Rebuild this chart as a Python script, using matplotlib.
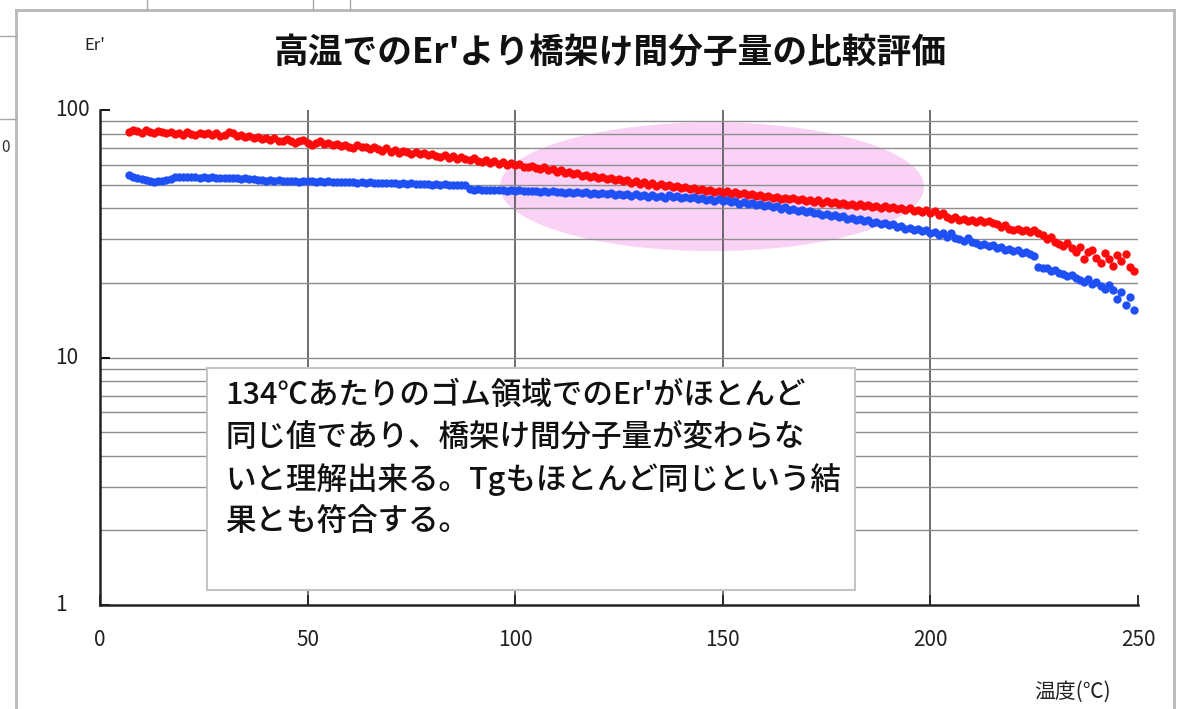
import matplotlib.pyplot as plt
from matplotlib.patches import Ellipse, Rectangle
from matplotlib.lines import Line2D
from matplotlib.ticker import LogLocator, NullFormatter
import numpy as np

plt.rcParams['font.family'] = ['Noto Sans CJK JP', 'DejaVu Sans']

# Er' measured every 1 degC from 7 to 249 degC
temp = np.arange(7, 250)

er_red = [
    81.5, 83.0, 82.2, 81.0, 82.8, 81.6, 80.9, 82.4, 81.3, 80.7,
    81.8, 80.2, 80.9, 79.6, 81.2, 80.1, 79.3, 80.6, 79.8, 81.0,
    79.0, 80.4, 78.7, 79.5, 81.5, 80.8, 78.2, 78.9, 77.6, 78.4,
    77.1, 78.0, 76.5, 77.3, 75.8, 76.9, 75.2, 74.6, 76.0, 74.9,
    73.8, 74.7, 75.6, 73.6, 72.4, 73.9, 74.8, 72.8, 73.4, 72.1,
    73.0, 71.6, 72.5, 71.2, 70.4, 72.3, 71.0, 70.6, 69.3, 70.9,
    69.8, 68.6, 70.2, 67.9, 69.1, 66.8, 68.4, 67.6, 66.2, 67.8,
    66.7, 67.3, 65.8, 66.6, 65.2, 64.8, 66.0, 64.1, 65.0, 63.4,
    64.3, 63.1, 62.6, 63.8, 62.2, 61.9, 62.8, 61.3, 62.0, 60.6,
    61.4, 60.2, 60.9, 59.7, 60.5, 59.1, 58.8, 59.6, 58.2, 57.9,
    58.6, 57.1, 57.8, 56.4, 57.0, 55.6, 56.3, 54.9, 55.5, 54.2,
    54.8, 53.5, 54.3, 53.0, 53.8, 52.4, 53.2, 51.9, 52.6, 51.5,
    52.0, 50.8, 51.6, 50.4, 51.0, 49.9, 50.6, 49.5, 50.1, 49.2,
    49.8, 48.7, 49.3, 48.2, 48.9, 47.8, 48.4, 47.4, 47.9, 47.1,
    47.6, 46.6, 47.2, 46.4, 46.9, 45.9, 46.5, 45.6, 46.1, 45.2,
    45.8, 44.9, 45.4, 44.5, 45.0, 44.1, 44.6, 43.7, 44.3, 43.5,
    44.0, 43.1, 43.7, 42.9, 43.4, 42.5, 43.1, 42.2, 42.8, 42.0,
    42.5, 41.7, 42.2, 41.4, 41.9, 41.1, 41.7, 40.8, 41.4, 40.6,
    41.1, 40.3, 40.9, 40.1, 40.6, 39.8, 40.3, 39.5, 40.0, 39.2,
    39.6, 38.8, 39.3, 38.5, 38.9, 37.6, 38.2, 37.0, 36.4, 36.9,
    35.8, 36.3, 35.5, 36.0, 35.4, 35.9, 35.2, 35.7, 35.0, 34.6,
    33.8, 34.2, 33.1, 32.6, 33.0, 32.3, 32.8, 32.1, 32.6, 31.8,
    31.2, 30.1, 30.6, 29.4, 28.8, 28.2, 28.9, 27.6, 26.8, 27.9,
    25.1, 26.6, 27.2, 25.3, 24.2, 26.4, 25.0, 23.5, 25.9, 24.6,
    26.1, 23.2, 22.3,
]

er_blue = [
    54.6, 53.8, 53.0, 52.4, 52.0, 51.6, 51.4, 51.5, 51.7, 52.1,
    52.8, 53.4, 53.6, 53.5, 53.7, 53.4, 53.6, 53.3, 53.5, 53.2,
    53.4, 53.1, 53.3, 53.0, 53.2, 52.9, 53.1, 52.8, 52.9, 52.7,
    52.6, 52.2, 52.0, 51.8, 52.0, 51.7, 51.9, 51.6, 51.8, 51.5,
    51.7, 51.4, 51.6, 51.5, 51.7, 51.4, 51.6, 51.3, 51.5, 51.2,
    51.4, 51.1, 51.3, 51.0, 51.2, 50.9, 51.1, 50.8, 51.0, 50.7,
    50.9, 50.6, 50.8, 50.5, 50.7, 50.4, 50.6, 50.3, 50.5, 50.2,
    50.4, 50.1, 50.3, 50.0, 50.2, 49.9, 50.1, 49.8, 50.0, 49.7,
    49.9, 49.6, 47.9, 47.6, 47.8, 47.5, 47.7, 47.4, 47.6, 47.3,
    47.5, 47.2, 47.4, 47.1, 47.3, 47.0, 47.2, 46.9, 47.1, 46.8,
    47.0, 46.6, 46.9, 46.5, 46.8, 46.3, 46.7, 46.2, 46.6, 46.0,
    46.5, 45.9, 46.4, 45.7, 46.2, 45.6, 46.1, 45.4, 45.9, 45.3,
    45.8, 45.1, 45.7, 44.9, 45.5, 44.7, 45.3, 44.5, 45.1, 44.3,
    45.4, 44.6, 45.0, 44.2, 44.7, 43.9, 44.4, 43.6, 44.1, 43.3,
    43.8, 43.0, 43.5, 42.7, 43.2, 42.3, 42.8, 41.9, 42.4, 41.6,
    42.0, 41.2, 41.6, 40.8, 41.2, 40.4, 40.8, 39.9, 40.4, 39.6,
    39.9, 39.1, 39.5, 38.6, 39.0, 38.2, 38.5, 37.7, 38.1, 37.3,
    37.6, 36.8, 37.2, 36.4, 36.7, 35.9, 36.3, 35.5, 35.8, 35.0,
    35.3, 34.6, 34.9, 34.2, 34.5, 33.7, 34.0, 33.2, 33.5, 32.8,
    33.0, 32.3, 32.6, 31.9, 32.1, 31.3, 31.7, 30.8, 31.9, 30.4,
    30.0, 29.6, 30.3, 29.2, 28.9, 28.5, 28.8, 28.1, 28.4, 27.8,
    28.0, 27.3, 27.5, 26.9, 27.1, 26.5, 26.7, 26.1, 25.7, 23.3,
    23.0, 22.9, 22.4, 22.6, 22.0, 21.8, 21.3, 21.6, 20.9, 20.6,
    20.2, 20.7, 19.8, 20.1, 19.4, 19.0, 19.6, 18.7, 17.2, 18.4,
    16.3, 17.6, 15.6,
]

x_ticks = [0, 50, 100, 150, 200, 250]
y_ticks = [1, 10, 100]
y_tick_labels = ['1', '10', '100']

title = "高温でのEr'より橋架け間分子量の比較評価"
note_lines = [
    "134℃あたりのゴム領域でのEr'がほとんど",
    "同じ値であり、橋架け間分子量が変わらな",
    "いと理解出来る。Tgもほとんど同じという結",
    "果とも符合する。",
]

W, H = 1177, 709
fig = plt.figure(figsize=(W / 100, H / 100), dpi=100)
fig.patch.set_facecolor('white')

# spreadsheet frame around the chart
frame_kw = dict(color='#b8b8b8', lw=2, transform=fig.transFigure)
fig.add_artist(Line2D([16 / W, 1174 / W], [1 - 10 / H, 1 - 10 / H], **frame_kw))
fig.add_artist(Line2D([16 / W, 16 / W], [0, 1 - 10 / H], **frame_kw))
fig.add_artist(Line2D([1174 / W, 1174 / W], [0, 1 - 10 / H], **frame_kw))
cell_kw = dict(color='#a8a8a8', lw=1, transform=fig.transFigure)
for px in (147, 313, 350):
    fig.add_artist(Line2D([px / W, px / W], [1 - 10 / H, 1], **cell_kw))
for py in (36, 119):
    fig.add_artist(Line2D([0, 16 / W], [1 - py / H, 1 - py / H], **cell_kw))
fig.text(1 / W, 1 - 148 / H, '0', fontsize=11, va='center', ha='left', color='#333333')

ax = fig.add_axes([100 / W, 1 - 605 / H, 1038 / W, 495 / H])
ax.set_yscale('log')
ax.set_xlim(0, 250)
ax.set_ylim(1, 100)

ax.plot(temp, er_red, ls='none', marker='o', ms=6, mew=0, color='#ff0a0a', zorder=3)
ax.plot(temp, er_blue, ls='none', marker='o', ms=6, mew=0, color='#1e50f5', zorder=3)

# highlighted rubbery region
ax.add_patch(Ellipse((0.5896, 0.8450), 0.4085, 0.2600, transform=ax.transAxes,
                     facecolor='#f9d2f5', edgecolor='none', zorder=1))

# grid: every minor decade line plus the 50 degC verticals
ax.yaxis.set_minor_locator(LogLocator(base=10, subs=np.arange(2, 10), numticks=10))
ax.yaxis.set_minor_formatter(NullFormatter())
ax.set_yticks(y_ticks)
ax.set_yticklabels([])
ax.set_xticks(x_ticks)
ax.grid(True, which='both', axis='y', color='#8e8e8e', lw=1)
ax.grid(True, which='major', axis='x', color='#555555', lw=1.2)
for gl, v in zip(ax.yaxis.get_gridlines(), y_ticks):
    if v in (1, 100):
        gl.set_visible(False)
for gl, v in zip(ax.xaxis.get_gridlines(), x_ticks):
    if v in (0, 250):
        gl.set_visible(False)

ax.tick_params(axis='x', which='major', direction='in', length=7, width=1.3,
               pad=17, labelsize=15, colors='#222222')
ax.tick_params(axis='y', which='major', direction='in', length=7, width=1.3)
ax.tick_params(axis='y', which='minor', length=0)
for spine in ('top', 'right'):
    ax.spines[spine].set_visible(False)
for spine in ('left', 'bottom'):
    ax.spines[spine].set_linewidth(1.8)
    ax.spines[spine].set_color('#222222')

ylab_tf = ax.get_yaxis_transform()
for v, lab in zip(y_ticks, y_tick_labels):
    ax.text(-45 / 1038, v, lab, transform=ylab_tf, ha='left', va='center',
            fontsize=15, color='#222222', clip_on=False)

# comment box
ax.add_patch(Rectangle((107 / 1038, 1 - 480 / 495), 648 / 1038, 222 / 495,
                       transform=ax.transAxes, facecolor='white',
                       edgecolor='#c4c4c4', lw=1.5, zorder=5))
for i, line in enumerate(note_lines):
    ax.text(125 / 1038, 1 - (285 + 42.3 * i) / 495, line, transform=ax.transAxes,
            ha='left', va='center', fontsize=22, fontweight='medium',
            color='#111111', zorder=6)

fig.text(610 / W, 1 - 52 / H, title, ha='center', va='center', fontsize=25,
         fontweight='bold', color='#111111')
fig.text(95 / W, 1 - 45 / H, "Er'", ha='center', va='center', fontsize=12, color='#222222')
fig.text(1072 / W, 1 - 692 / H, '温度(℃)', ha='center', va='center', fontsize=15,
         color='#222222')

fig.savefig('out.png', dpi=100)
